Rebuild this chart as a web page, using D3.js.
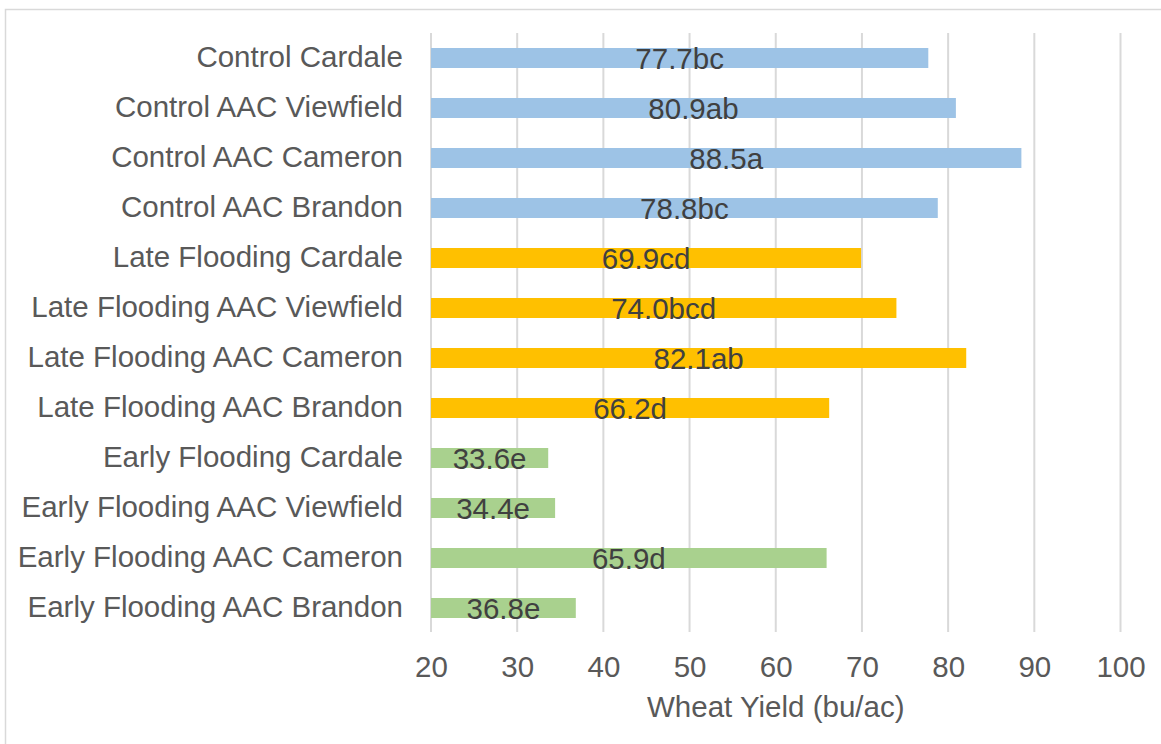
<!DOCTYPE html>
<html>
<head>
<meta charset="utf-8">
<script src="https://cdn.jsdelivr.net/npm/d3@7"></script>
<style>
  html, body { margin: 0; padding: 0; background: #fff; }
  svg { display: block; }
  text { font-family: "Liberation Sans", Arial, sans-serif; }
</style>
</head>
<body>
<svg id="chart" width="1161" height="744"></svg>
<script>
const categories = [
  "Control Cardale", "Control AAC Viewfield", "Control AAC Cameron", "Control AAC Brandon",
  "Late Flooding Cardale", "Late Flooding AAC Viewfield", "Late Flooding AAC Cameron", "Late Flooding AAC Brandon",
  "Early Flooding Cardale", "Early Flooding AAC Viewfield", "Early Flooding AAC Cameron", "Early Flooding AAC Brandon"
];
const yields = [77.7, 80.9, 88.5, 78.8, 69.9, 74.0, 82.1, 66.2, 33.6, 34.4, 65.9, 36.8];
const letters = ["bc", "ab", "a", "bc", "cd", "bcd", "ab", "d", "e", "e", "d", "e"];
const groups = ["Control", "Control", "Control", "Control", "Late", "Late", "Late", "Late", "Early", "Early", "Early", "Early"];
const xTicks = [20, 30, 40, 50, 60, 70, 80, 90, 100];
const axisTitle = "Wheat Yield (bu/ac)";

const colors = { Control: "#9DC3E6", Late: "#FFC000", Early: "#A9D18E" };
const FS = "29.5px";

const svg = d3.select("#chart");

// outer chart border
svg.append("rect")
  .attr("x", 5.5).attr("y", 9.5)
  .attr("width", 1170).attr("height", 760)
  .attr("fill", "none").attr("stroke", "#D9D9D9").attr("stroke-width", 1.5);

const x = d3.scaleLinear().domain([20, 100]).range([431, 1120.5]);
const y = d3.scaleBand().domain(categories).range([33, 633]).paddingInner(0.6).paddingOuter(0.3);

// gridlines
svg.append("g").selectAll("line").data(xTicks).join("line")
  .attr("x1", d => x(d)).attr("x2", d => x(d))
  .attr("y1", 33).attr("y2", 632)
  .attr("stroke", "#D9D9D9").attr("stroke-width", 2);

const data = categories.map((c, i) => ({ c, v: yields[i], l: letters[i], g: groups[i] }));

// bars
svg.append("g").selectAll("rect").data(data).join("rect")
  .attr("x", x(20))
  .attr("y", d => y(d.c))
  .attr("width", d => x(d.v) - x(20))
  .attr("height", y.bandwidth())
  .attr("fill", d => colors[d.g]);

// data labels
svg.append("g").selectAll("text").data(data).join("text")
  .attr("x", d => (x(20) + x(d.v)) / 2)
  .attr("y", d => y(d.c) + y.bandwidth() / 2 + 10.5)
  .attr("text-anchor", "middle")
  .attr("fill", "#404040")
  .style("font-size", FS)
  .text(d => d.v.toFixed(1) + d.l);

// y axis category labels
const yAxis = d3.axisLeft(y).tickSize(0).tickPadding(0);
const yg = svg.append("g").attr("transform", "translate(403,0)").call(yAxis);
yg.select(".domain").remove();
yg.selectAll("text")
  .attr("fill", "#595959")
  .attr("dy", null)
  .attr("y", 9)
  .style("font-size", FS)
  .style("font-family", "'Liberation Sans', Arial, sans-serif");

// x axis
const xAxis = d3.axisBottom(x).tickValues(xTicks).tickSize(0).tickPadding(0).tickFormat(d3.format("d"));
const xg = svg.append("g").attr("transform", "translate(0,0)").call(xAxis);
xg.select(".domain").remove();
xg.selectAll("text")
  .attr("fill", "#595959")
  .attr("dy", null)
  .attr("y", 677)
  .style("font-size", FS)
  .style("font-family", "'Liberation Sans', Arial, sans-serif");

// axis title
svg.append("text")
  .attr("x", (x(20) + x(100)) / 2)
  .attr("y", 717)
  .attr("text-anchor", "middle")
  .attr("fill", "#595959")
  .style("font-size", FS)
  .text(axisTitle);
</script>
</body>
</html>
